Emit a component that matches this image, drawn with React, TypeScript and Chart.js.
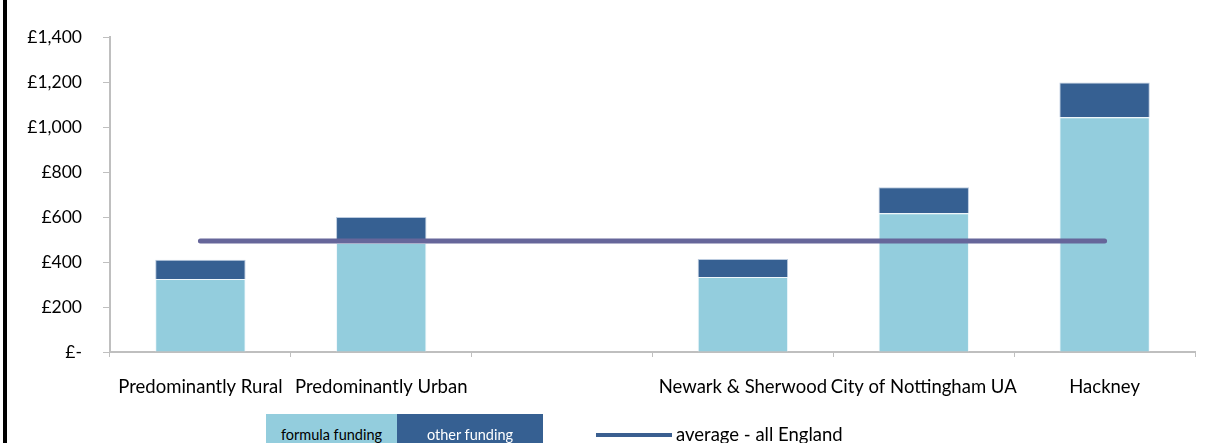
import React, { useEffect, useRef } from "react";
import { Chart, registerables } from "chart.js";

Chart.register(...registerables);

const categories = [
  "Predominantly Rural",
  "Predominantly Urban",
  "",
  "Newark & Sherwood",
  "City of Nottingham UA",
  "Hackney",
];
const formulaFunding = [324, 485, null, 333, 617, 1043];
const otherFunding = [86, 115, null, 80, 115, 155];
const averageEngland = [493, 493, 493, 493, 493, 493];
const yTicks = [0, 200, 400, 600, 800, 1000, 1200, 1400];

const FORMULA = "#93CDDD";
const OTHER = "#366092";
const AVG = "#66669A";

export default function App() {
  const ref = useRef<HTMLCanvasElement | null>(null);

  useEffect(() => {
    document.body.style.margin = "0";
    const ctx = ref.current!;
    const chart = new Chart(ctx, {
      type: "bar",
      data: {
        labels: categories,
        datasets: [
          {
            type: "line",
            label: "average - all England",
            data: averageEngland,
            borderColor: AVG,
            backgroundColor: AVG,
            borderWidth: 5,
            borderCapStyle: "round",
            pointRadius: 0,
            order: 0,
          } as any,
          {
            label: "formula funding",
            data: formulaFunding,
            backgroundColor: FORMULA,
            borderColor: "rgba(235,245,250,0.8)",
            borderWidth: 1,
            stack: "s",
            order: 1,
          },
          {
            label: "other funding",
            data: otherFunding,
            backgroundColor: OTHER,
            borderColor: "rgba(170,190,215,0.8)",
            borderWidth: 1,
            stack: "s",
            order: 1,
          },
        ],
      },
      options: {
        responsive: false,
        animation: false,
        devicePixelRatio: 1,
        layout: { padding: { top: 37, right: 26, left: 0, bottom: 0 } },
        plugins: {
          legend: { display: false },
          tooltip: { enabled: false },
          title: { display: false },
        },
        datasets: {
          bar: { barPercentage: 0.5, categoryPercentage: 1 },
        },
        scales: {
          x: {
            stacked: true,
            offset: true,
            grid: {
              display: true,
              offset: true,
              drawOnChartArea: false,
              drawTicks: true,
              tickLength: 5,
              color: "#BFBFBF",
              lineWidth: 1,
            },
            border: { display: true, color: "#BFBFBF", width: 2 },
            ticks: {
              color: "#000",
              font: { family: "Lato", size: 18.5 },
              padding: 19,
              maxRotation: 0,
              autoSkip: false,
            },
            afterFit: (s: any) => {
              s.height = 91;
            },
          },
          y: {
            stacked: true,
            min: 0,
            max: 1400,
            afterBuildTicks: (s: any) => {
              s.ticks = yTicks.map((v) => ({ value: v }));
            },
            grid: {
              display: true,
              drawOnChartArea: false,
              drawTicks: true,
              tickLength: 7,
              color: "#BFBFBF",
            },
            border: { display: true, color: "#BFBFBF", width: 2 },
            ticks: {
              color: "#000",
              font: { family: "Lato", size: 17.5 },
              padding: 21,
              callback: (v: any) =>
                Number(v) === 0 ? "£-" : "£" + Number(v).toLocaleString("en-GB"),
            },
            afterFit: (s: any) => {
              s.width = 110;
            },
          },
        },
      },
    });
    return () => chart.destroy();
  }, []);

  return (
    <div
      style={{
        position: "fixed",
        left: 0,
        top: 0,
        width: 1221,
        height: 443,
        background: "#fff",
        overflow: "hidden",
        fontFamily: "Lato, sans-serif",
      }}
    >
      <canvas ref={ref} width={1221} height={443} style={{ position: "absolute", left: 0, top: 0 }} />
      <div style={{ position: "absolute", left: 3, top: 0, width: 4, height: 443, background: "#000" }} />
      <div
        style={{
          position: "absolute",
          left: 266,
          top: 414,
          width: 131,
          height: 29,
          background: FORMULA,
          color: "#000",
          fontSize: 14.5,
          textAlign: "center",
          lineHeight: "42px",
          whiteSpace: "nowrap",
        }}
      >
        formula funding
      </div>
      <div
        style={{
          position: "absolute",
          left: 397,
          top: 414,
          width: 146,
          height: 29,
          background: OTHER,
          color: "#fff",
          fontSize: 14.5,
          textAlign: "center",
          lineHeight: "42px",
          whiteSpace: "nowrap",
        }}
      >
        other funding
      </div>
      <div style={{ position: "absolute", left: 596, top: 433, width: 76, height: 4, background: "#3A5F90" }} />
      <div
        style={{
          position: "absolute",
          left: 676,
          top: 423,
          fontSize: 18.5,
          lineHeight: "22px",
          color: "#000",
          whiteSpace: "nowrap",
        }}
      >
        average - all England
      </div>
    </div>
  );
}
